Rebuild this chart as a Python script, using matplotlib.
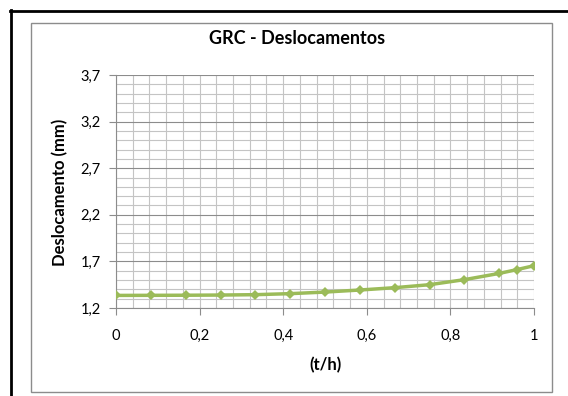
import matplotlib.pyplot as plt
import numpy as np
from matplotlib.lines import Line2D
from matplotlib.patches import Rectangle
from matplotlib.ticker import FixedLocator, MultipleLocator, FuncFormatter

# dados
t_h = [0, 1/12, 2/12, 3/12, 4/12, 5/12, 6/12, 7/12, 8/12, 9/12, 10/12, 11/12, 11.5/12, 1]
desloc = [1.335, 1.336, 1.337, 1.339, 1.343, 1.354, 1.371, 1.393, 1.418, 1.450,
          1.504, 1.571, 1.611, 1.654]

plt.rcParams["font.family"] = ["Lato", "DejaVu Sans"]

W, H = 568, 396
fig = plt.figure(figsize=(W / 100, H / 100), dpi=100)

def px(x0, y0, x1, y1):
    # caixa em pixels (origem no topo) -> fracao da figura
    return [x0 / W, 1 - y1 / H, (x1 - x0) / W, (y1 - y0) / H]

# moldura externa preta e area do grafico
fig.add_artist(Line2D([11 / W, 11 / W], [0, 1 - 10 / H], color="black", lw=2,
                      transform=fig.transFigure))
fig.add_artist(Line2D([10 / W, 1], [1 - 11 / H, 1 - 11 / H], color="black", lw=2,
                      transform=fig.transFigure))
fig.add_artist(Rectangle((31 / W, 1 - 392 / H), (552 - 31) / W, (392 - 23) / H,
                         fill=False, ec="#8c8c8c", lw=1, transform=fig.transFigure))

ax = fig.add_axes(px(116, 75, 534, 308))
ax.plot(t_h, desloc, color="#9bbb59", lw=2.5, marker="D", markersize=5.5,
        markeredgewidth=0, zorder=3)

ax.set_xlim(0, 1)
ax.set_ylim(1.2, 3.7)
ax.xaxis.set_major_locator(MultipleLocator(0.2))
ax.xaxis.set_minor_locator(MultipleLocator(0.04))
ax.yaxis.set_major_locator(FixedLocator(np.arange(1.2, 3.75, 0.5)))
ax.yaxis.set_minor_locator(FixedLocator(np.arange(1.2, 3.75, 0.1)))

ax.xaxis.set_major_formatter(FuncFormatter(lambda v, p: ("%g" % round(v, 2)).replace(".", ",")))
ax.yaxis.set_major_formatter(FuncFormatter(lambda v, p: ("%.1f" % v).replace(".", ",")))

# grade: horizontais principais mais escuras
ax.grid(True, axis="y", which="major", color="#8c8c8c", lw=0.8)
ax.grid(True, axis="y", which="minor", color="#c4c4c4", lw=0.8)
ax.grid(True, axis="x", which="both", color="#c4c4c4", lw=0.8)
ax.set_axisbelow(True)

for s in ["top", "right"]:
    ax.spines[s].set_visible(False)
ax.spines["left"].set_color("#8c8c8c")
ax.spines["bottom"].set_color("#8c8c8c")

ax.tick_params(which="major", length=5, color="#8c8c8c", labelsize=10.5)
ax.tick_params(which="minor", length=0)
ax.tick_params(axis="x", pad=10)
ax.tick_params(axis="y", pad=6)

fig.text(297 / W, 1 - 38 / H, "GRC - Deslocamentos", ha="center", va="center",
         fontsize=13, fontweight="bold")
fig.text(60 / W, 1 - 192 / H, "Deslocamento (mm)", ha="center", va="center",
         rotation=90, fontsize=12, fontweight="bold")
fig.text(325 / W, 1 - 365 / H, "(t/h)", ha="center", va="center",
         fontsize=12, fontweight="bold")

fig.savefig("out.png", dpi=100)
